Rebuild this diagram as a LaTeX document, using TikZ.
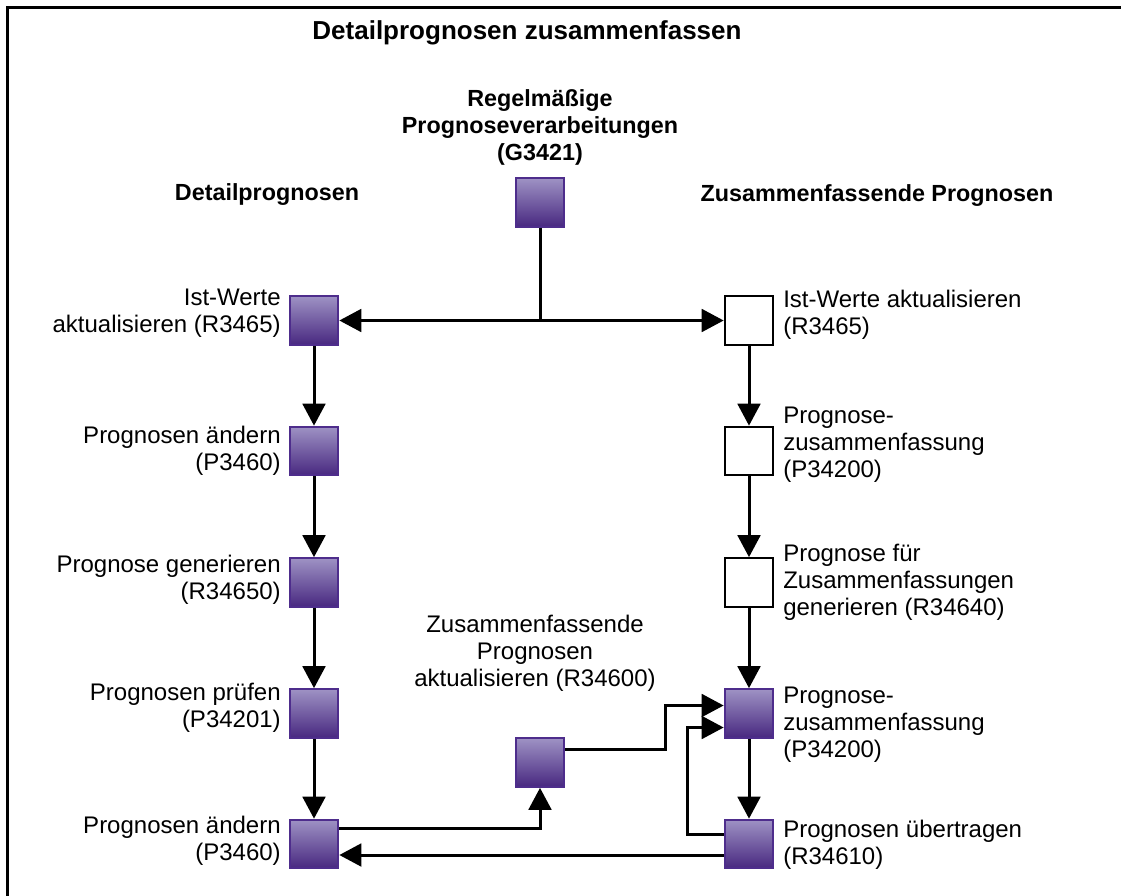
\documentclass[tikz,border=0pt]{standalone}
\usepackage{fontspec}
\setmainfont{Liberation Sans}
\usetikzlibrary{arrows.meta}
\definecolor{boxtop}{RGB}{158,146,196}
\definecolor{boxbottom}{RGB}{72,40,128}
\definecolor{boxedge}{RGB}{78,45,140}
\begin{document}
\begin{tikzpicture}[x=0.75pt,y=-0.75pt,
  purplebox/.style={draw=boxedge, line width=1.5pt, top color=boxtop, bottom color=boxbottom,
    minimum size=36.5pt, inner sep=0pt},
  whitebox/.style={draw=black, line width=1.5pt, fill=white, minimum size=36.5pt, inner sep=0pt},
  link/.style={line width=2.25pt},
  flow/.style={link, -{Triangle[length=16.5pt,width=17pt]}},
  lab/.style={font=\fontsize{18pt}{20.25pt}\selectfont, inner sep=0pt},
  llab/.style={lab, anchor=east, align=right},
  rlab/.style={lab, anchor=west, align=left},
  head/.style={font=\fontsize{17.5pt}{20.25pt}\selectfont\bfseries, inner sep=0pt, align=center}]
\useasboundingbox (0,0) rectangle (1121,896);
% frame
\draw[line width=1.9pt] (7.5,896) -- (7.5,7.5) -- (1121,7.5);

% headings
\node[head, font=\fontsize{19.5pt}{22pt}\selectfont\bfseries] (title) at (527,33) {Detailprognosen zusammenfassen};
\node[head] (ghead) at (540,127) {Regelmäßige\\Prognoseverarbeitungen\\(G3421)};
\node[head] (lhead) at (267,195) {Detailprognosen};
\node[head] (rhead) at (877,196) {Zusammenfassende Prognosen};

% boxes
\node[purplebox] (g) at (540,202.5) {};
\node[purplebox] (l1) at (314,320.5) {};
\node[purplebox] (l2) at (314,451) {};
\node[purplebox] (l3) at (314,582.5) {};
\node[purplebox] (l4) at (314,713.5) {};
\node[purplebox] (l5) at (314,844) {};
\node[purplebox] (m) at (540,762.5) {};
\node[whitebox] (r1) at (749,320.5) {};
\node[whitebox] (r2) at (749,451) {};
\node[whitebox] (r3) at (749,582.5) {};
\node[purplebox] (r4) at (749,713.5) {};
\node[purplebox] (r5) at (749,844) {};

% labels
\node[llab] (tl1) at (281,313) {Ist-Werte\\aktualisieren (R3465)};
\node[llab] (tl2) at (281,451) {Prognosen ändern\\(P3460)};
\node[llab] (tl3) at (281,580) {Prognose generieren\\(R34650)};
\node[llab] (tl4) at (281,708) {Prognosen prüfen\\(P34201)};
\node[llab] (tl5) at (281,841) {Prognosen ändern\\(P3460)};
\node[rlab] (tr1) at (783,315) {Ist-Werte aktualisieren\\(R3465)};
\node[rlab] (tr2) at (783,445) {Prognose-\\zusammenfassung\\(P34200)};
\node[rlab] (tr3) at (783,582) {Prognose für\\Zusammenfassungen\\generieren (R34640)};
\node[rlab] (tr4) at (783,725) {Prognose-\\zusammenfassung\\(P34200)};
\node[rlab] (tr5) at (783,845) {Prognosen übertragen\\(R34610)};
\node[lab, align=center] (tm) at (535,653) {Zusammenfassende\\Prognosen\\aktualisieren (R34600)};

% connectors
\coordinate (split) at (540,320.5);
\draw[link] (g.south) -- (split);
\draw[flow] (split) -- (l1.east);
\draw[flow] (split) -- (r1.west);
\draw[flow] (l1) -- (l2);
\draw[flow] (l2) -- (l3);
\draw[flow] (l3) -- (l4);
\draw[flow] (l4) -- (l5);
\draw[flow] (r1) -- (r2);
\draw[flow] (r2) -- (r3);
\draw[flow] (r3) -- (r4);
\draw[flow] (r4) -- (r5);
\draw[flow] ([yshift=12pt]l5.east) -| (m.south);
\coordinate (inA) at ([yshift=6pt]r4.west);
\coordinate (inB) at ([yshift=-10.5pt]r4.west);
\coordinate (bendA) at (665,0);
\coordinate (bendB) at (687,0);
\draw[flow] ([yshift=9.75pt]m.east) -| (bendA |- inA) -- (inA);
\draw[flow] ([yshift=7.5pt]r5.west) -| (bendB |- inB) -- (inB);
\draw[flow] ([yshift=-8.25pt]r5.west) -- ([yshift=-8.25pt]l5.east);
\end{tikzpicture}
\end{document}
